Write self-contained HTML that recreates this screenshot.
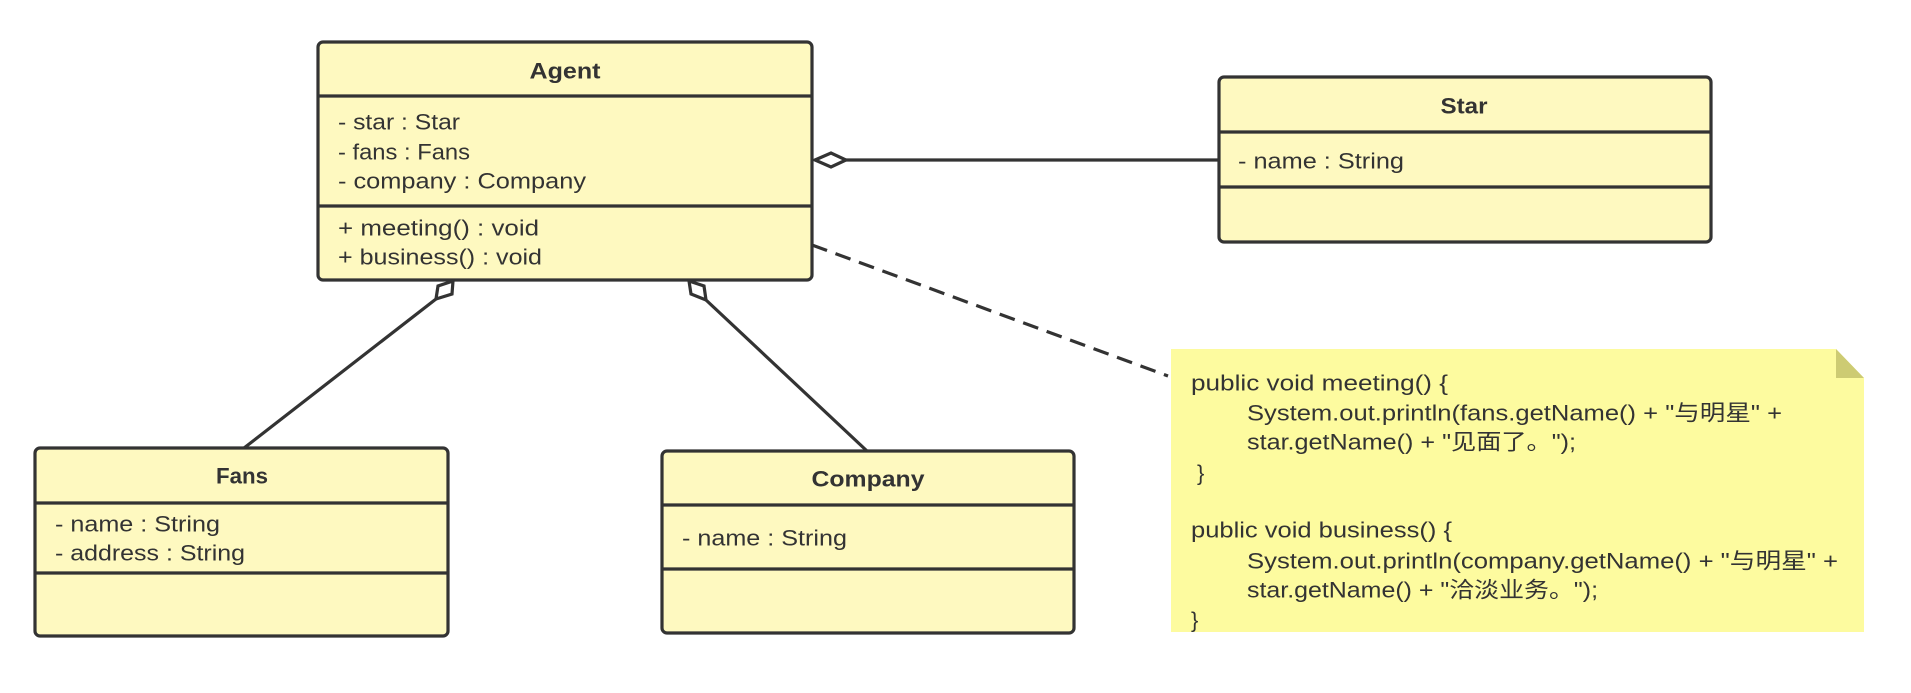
<!DOCTYPE html>
<html><head><meta charset="utf-8"><style>
html,body{margin:0;padding:0;background:#fff;}
svg{display:block;}
text{font-family:"Liberation Sans","Noto Sans CJK SC",sans-serif;font-size:22px;fill:#333;dominant-baseline:central;}
.t{font-weight:bold;text-anchor:middle;}
</style></head><body>
<svg width="1911" height="693" viewBox="0 0 1911 693" xmlns="http://www.w3.org/2000/svg">
<g stroke="#333" stroke-width="3.2" fill="#fef9c0">
<rect x="318" y="42" width="494" height="238" rx="5"/>
<line x1="318" y1="96" x2="812" y2="96"/>
<line x1="318" y1="206" x2="812" y2="206"/>
<rect x="1219" y="77" width="492" height="165" rx="5"/>
<line x1="1219" y1="132" x2="1711" y2="132"/>
<line x1="1219" y1="187" x2="1711" y2="187"/>
<rect x="35" y="448" width="413" height="188" rx="5"/>
<line x1="35" y1="503" x2="448" y2="503"/>
<line x1="35" y1="573" x2="448" y2="573"/>
<rect x="662" y="451" width="412" height="182" rx="5"/>
<line x1="662" y1="505" x2="1074" y2="505"/>
<line x1="662" y1="569" x2="1074" y2="569"/>
</g>
<g stroke="#333" stroke-width="3.2" fill="#fff">
<line x1="846" y1="160" x2="1219" y2="160"/>
<polygon points="815,160 831,153 846,160 831,167"/>
<line x1="244" y1="448" x2="436" y2="299"/>
<polygon points="453,281 452,294 436,299 438,286"/>
<line x1="867" y1="451" x2="706" y2="300"/>
<polygon points="689,281 704,286 706,300 691,294"/>
<line x1="812" y1="245" x2="1168" y2="376" stroke-dasharray="16,9"/>
</g>
<polygon points="1171,349 1836,349 1864,378 1864,632 1171,632" fill="#fdfb9f"/>
<polygon points="1836,349 1864,378 1836,378" fill="#cdcb73"/>
<text class="t" x="565" y="71" textLength="71" lengthAdjust="spacingAndGlyphs">Agent</text>
<text x="338" y="122" textLength="122" lengthAdjust="spacingAndGlyphs">- star : Star</text>
<text x="338" y="152" textLength="132" lengthAdjust="spacingAndGlyphs">- fans : Fans</text>
<text x="338" y="181" textLength="248" lengthAdjust="spacingAndGlyphs">- company : Company</text>
<text x="338" y="228" textLength="201" lengthAdjust="spacingAndGlyphs">+ meeting() : void</text>
<text x="338" y="257" textLength="204" lengthAdjust="spacingAndGlyphs">+ business() : void</text>
<text class="t" x="1464" y="106" textLength="47" lengthAdjust="spacingAndGlyphs">Star</text>
<text x="1238" y="161" textLength="166" lengthAdjust="spacingAndGlyphs">- name : String</text>
<text class="t" x="242" y="476" textLength="52" lengthAdjust="spacingAndGlyphs">Fans</text>
<text x="55" y="524" textLength="165" lengthAdjust="spacingAndGlyphs">- name : String</text>
<text x="55" y="553" textLength="190" lengthAdjust="spacingAndGlyphs">- address : String</text>
<text class="t" x="868" y="479" textLength="113" lengthAdjust="spacingAndGlyphs">Company</text>
<text x="682" y="538" textLength="165" lengthAdjust="spacingAndGlyphs">- name : String</text>
<text x="1191" y="383" textLength="257" lengthAdjust="spacingAndGlyphs">public void meeting() {</text>
<text x="1247" y="413" textLength="535" lengthAdjust="spacingAndGlyphs">System.out.println(fans.getName() + "与明星" +</text>
<text x="1247" y="442" textLength="329" lengthAdjust="spacingAndGlyphs">star.getName() + "见面了。");</text>
<text x="1197" y="473">}</text>
<text x="1191" y="530" textLength="261" lengthAdjust="spacingAndGlyphs">public void business() {</text>
<text x="1247" y="561" textLength="591" lengthAdjust="spacingAndGlyphs">System.out.println(company.getName() + "与明星" +</text>
<text x="1247" y="590" textLength="351" lengthAdjust="spacingAndGlyphs">star.getName() + "洽淡业务。");</text>
<text x="1191" y="620">}</text>
</svg>
</body></html>
